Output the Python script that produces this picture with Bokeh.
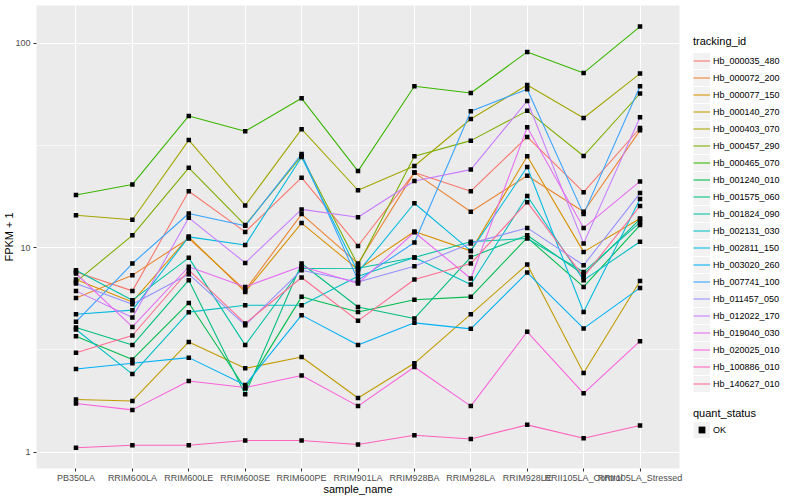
from bokeh.plotting import figure
from bokeh.models import (FactorRange, Range1d, FixedTicker, Legend, LegendItem,
                          NumeralTickFormatter)
from bokeh.layouts import row
from bokeh.embed import file_html
from bokeh.resources import INLINE

# ---------------- data ----------------
samples = ["PB350LA", "RRIM600LA", "RRIM600LE", "RRIM600SE", "RRIM600PE",
           "RRIM901LA", "RRIM928BA", "RRIM928LA", "RRIM928LE",
           "RRII105LA_Control", "RRII105LA_Stressed"]

tracking_ids = ["Hb_000035_480", "Hb_000072_200", "Hb_000077_150", "Hb_000140_270",
                "Hb_000403_070", "Hb_000457_290", "Hb_000465_070", "Hb_001240_010",
                "Hb_001575_060", "Hb_001824_090", "Hb_002131_030", "Hb_002811_150",
                "Hb_003020_260", "Hb_007741_100", "Hb_011457_050", "Hb_012022_170",
                "Hb_019040_030", "Hb_020025_010", "Hb_100886_010", "Hb_140627_010"]

hb_000035_480 = [7.61, 6.15, 18.9, 11.95, 22.0, 10.2, 23.3, 18.9, 34.8, 18.7, 38.5]
hb_000072_200 = [5.68, 7.34, 11.1, 6.20, 14.6, 8.37, 23.3, 15.0, 22.5, 15.0, 37.5]
hb_000077_150 = [6.99, 5.43, 11.3, 6.08, 13.2, 7.82, 12.0, 9.65, 28.0, 9.54, 13.9]
hb_000140_270 = [1.81, 1.78, 3.46, 2.57, 2.92, 1.84, 2.72, 4.73, 8.28, 2.44, 6.88]
hb_000403_070 = [14.4, 13.7, 33.6, 16.1, 38.0, 19.1, 25.1, 42.6, 62.5, 43.1, 71.1]
hb_000457_290 = [6.80, 11.5, 24.6, 12.9, 28.1, 8.21, 28.0, 33.4, 46.7, 28.1, 56.8]
hb_000465_070 = [18.1, 20.4, 44.1, 37.1, 53.8, 23.7, 61.6, 57.1, 90.7, 71.6, 120.7]
hb_001240_010 = [3.69, 2.84, 5.37, 2.05, 5.75, 4.85, 5.57, 5.75, 11.2, 6.43, 12.9]
hb_001575_060 = [4.07, 3.34, 6.94, 1.92, 8.37, 5.13, 4.51, 9.00, 11.5, 7.39, 13.8]
hb_001824_090 = [7.76, 5.54, 8.92, 3.34, 7.91, 7.94, 8.96, 10.7, 11.1, 7.61, 13.3]
hb_002131_030 = [3.98, 2.41, 4.84, 5.23, 5.23, 7.25, 8.96, 6.61, 17.9, 6.94, 10.7]
hb_002811_150 = [4.73, 4.95, 11.3, 10.3, 27.8, 7.59, 16.5, 9.65, 24.8, 4.85, 17.3]
hb_003020_260 = [2.55, 2.72, 2.90, 2.13, 4.68, 3.34, 4.29, 4.01, 7.56, 4.03, 6.36]
hb_007741_100 = [4.34, 8.37, 14.7, 12.8, 28.7, 6.94, 10.6, 46.5, 59.6, 14.6, 61.6]
hb_011457_050 = [6.68, 5.29, 7.42, 4.18, 7.76, 6.80, 8.12, 10.5, 12.5, 8.21, 18.5]
hb_012022_170 = [6.15, 4.56, 14.0, 8.43, 15.4, 14.1, 21.2, 24.1, 52.2, 10.5, 43.5]
hb_019040_030 = [7.48, 4.10, 8.07, 6.43, 8.12, 6.68, 11.9, 7.07, 38.8, 12.5, 21.1]
hb_020025_010 = [1.73, 1.61, 2.23, 2.07, 2.37, 1.68, 2.61, 1.68, 3.88, 1.94, 3.49]
hb_100886_010 = [1.05, 1.08, 1.08, 1.14, 1.14, 1.09, 1.21, 1.16, 1.36, 1.17, 1.35]
hb_140627_010 = [3.06, 3.72, 7.76, 4.26, 7.15, 4.39, 6.99, 8.37, 16.7, 7.20, 16.0]

series_values = [hb_000035_480, hb_000072_200, hb_000077_150, hb_000140_270,
                 hb_000403_070, hb_000457_290, hb_000465_070, hb_001240_010,
                 hb_001575_060, hb_001824_090, hb_002131_030, hb_002811_150,
                 hb_003020_260, hb_007741_100, hb_011457_050, hb_012022_170,
                 hb_019040_030, hb_020025_010, hb_100886_010, hb_140627_010]

quant_status = ["OK"]

y_ticks = [1, 10, 100]
y_tick_labels = ["1", "10", "100"]
y_minor_ticks = [3.1623, 31.623]

# ---------------- styles ----------------
colors = ["#F8766D", "#EA8331", "#D89000", "#C09B00", "#A3A500", "#7CAE00", "#39B600",
          "#00BB4E", "#00BF7D", "#00C1A3", "#00BFC4", "#00BAE0", "#00B0F6", "#35A2FF",
          "#9590FF", "#C77CFF", "#E76BF3", "#FA62DB", "#FF62BC", "#FF6C91"]
FONT = "Liberation Sans"
NAN = float("nan")

p = figure(x_range=FactorRange(factors=samples, range_padding=0.2,
                               range_padding_units="absolute"),
           y_range=Range1d(0.832, 153), y_axis_type="log",
           frame_width=643, height=500,
           min_border_left=0, min_border_right=8, min_border_top=5, min_border_bottom=32,
           toolbar_location=None, output_backend="svg",
           background_fill_color="#EBEBEB", border_fill_color="white",
           outline_line_color=None)

ticker = FixedTicker(ticks=y_ticks, minor_ticks=y_minor_ticks)
p.yaxis.ticker = ticker
p.ygrid.ticker = ticker
p.yaxis.formatter = NumeralTickFormatter(format="0")
p.yaxis.major_label_overrides = dict(zip(y_ticks, y_tick_labels))

p.xgrid.grid_line_color = "white"
p.xgrid.grid_line_width = 1.1
p.ygrid.grid_line_color = "white"
p.ygrid.grid_line_width = 1.1
p.ygrid.minor_grid_line_color = "white"
p.ygrid.minor_grid_line_width = 0.55

for ax in (p.xaxis, p.yaxis):
    ax.axis_line_color = None
    ax.major_tick_line_color = "#333333"
    ax.major_tick_line_width = 1.07
    ax.major_tick_out = 3
    ax.major_tick_in = 0
    ax.minor_tick_line_color = None
    ax.major_label_text_font = FONT
    ax.major_label_text_font_size = "9px"
    ax.major_label_text_color = "#4D4D4D"
    ax.major_label_text_line_height = 1.0
    ax.major_label_standoff = 2
    ax.axis_label_text_font = FONT
    ax.axis_label_text_font_size = "11px"
    ax.axis_label_text_font_style = "normal"
    ax.axis_label_text_color = "black"
    ax.axis_label_text_line_height = 1.0
p.yaxis.axis_label_standoff = -3
p.xaxis.major_label_standoff = 1
p.xaxis.axis_label_standoff = -3

p.xaxis.axis_label = "sample_name"
p.yaxis.axis_label = "FPKM + 1"

for vals, c in zip(series_values, colors):
    p.line(x=samples, y=vals, line_color=c, line_width=1.07)
for vals in series_values:
    p.scatter(x=samples, y=vals, marker="square", size=4.5,
              fill_color="black", line_color=None)

# ---------------- legend panel ----------------
pl = figure(width=109, height=500, x_range=Range1d(0, 1), y_range=Range1d(0, 1),
            x_axis_location=None, y_axis_location=None,
            toolbar_location=None, output_backend="svg",
            min_border_left=0, min_border_right=0, min_border_top=0, min_border_bottom=0,
            outline_line_color=None, background_fill_color="white")
pl.grid.visible = False

# legend-key swatches (not data; NaN keeps them out of the panel)
box = pl.line(x=[NAN], y=[NAN], line_color="#F2F2F2", line_width=16)
items = []
for name, c in zip(tracking_ids, colors):
    r = pl.line(x=[NAN], y=[NAN], line_color=c, line_width=1.07)
    items.append(LegendItem(label=name, renderers=[box, r]))

pt = pl.scatter(x=[NAN], y=[NAN], marker="square", size=4.5,
                fill_color="black", line_color=None)


def style_legend(lg):
    lg.glyph_width = 17
    lg.glyph_height = 17
    lg.label_height = 17
    lg.spacing = 0
    lg.padding = 0
    lg.margin = 0
    lg.border_line_color = None
    lg.background_fill_alpha = 0
    lg.label_text_font = FONT
    lg.label_text_font_size = "9px"
    lg.label_text_color = "black"
    lg.label_standoff = 3
    lg.title_text_font = FONT
    lg.title_text_font_size = "11px"
    lg.title_text_font_style = "normal"
    lg.title_text_color = "black"
    lg.title_standoff = 2


leg1 = Legend(items=items, title="tracking_id", location=(6, 76))
style_legend(leg1)
leg1.title_standoff = 5
pl.add_layout(leg1)

leg2 = Legend(items=[LegendItem(label=quant_status[0], renderers=[box, pt])],
              title="quant_status", location=(6, 30))
style_legend(leg2)
pl.add_layout(leg2)

layout = row(p, pl)
open("out.html", "w").write(file_html(layout, INLINE))
